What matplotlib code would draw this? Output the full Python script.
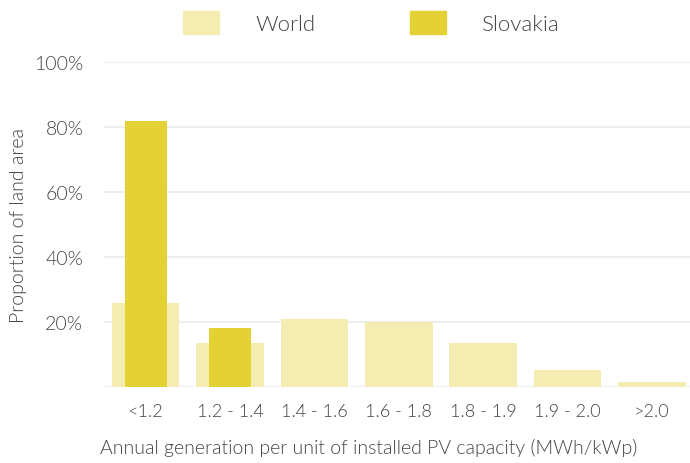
import matplotlib.pyplot as plt
from matplotlib.patches import Patch

# Data
categories = ["<1.2", "1.2 - 1.4", "1.4 - 1.6", "1.6 - 1.8", "1.8 - 1.9", "1.9 - 2.0", ">2.0"]
world = [25.7, 13.4, 20.8, 19.8, 13.4, 5.2, 1.4]
slovakia = [81.8, 18.0, 0, 0, 0, 0, 0]
yticks = [20, 40, 60, 80, 100]

world_color = "#f4ecb0"
slovakia_color = "#e4d134"
text_color = "#444444"

plt.rcParams['font.family'] = ['Lato', 'DejaVu Sans']
plt.rcParams['font.weight'] = 300
plt.rcParams['axes.labelweight'] = 300

fig = plt.figure(figsize=(6.9, 4.64), dpi=100)
ax = fig.add_axes([0.15, 0.1644, 0.85, 0.6992])

x = list(range(len(categories)))
ax.bar(x, world, width=0.8, color=world_color, zorder=2)
ax.bar(x, slovakia, width=0.5, color=slovakia_color, zorder=3)

ax.set_xlim(-0.5, 6.45)
ax.set_ylim(0, 100)

# grid lines
for v in [0] + yticks:
    ax.axhline(v, color="#eeeeee", lw=1.6, zorder=1)

ax.set_yticks(yticks)
ax.set_yticklabels([f"{v}%" for v in yticks], fontweight=300)
ax.set_xticks(x)
ax.set_xticklabels(categories, fontweight=300)
ax.tick_params(axis='y', length=0, pad=14.5, labelsize=14, labelcolor=text_color)
ax.tick_params(axis='x', length=0, pad=12, labelsize=13, labelcolor=text_color)

for s in ax.spines.values():
    s.set_visible(False)

ax.set_ylabel("Proportion of land area", fontsize=14, color=text_color, fontweight=300)
ax.yaxis.set_label_coords(-0.131, 0.5)
ax.set_xlabel("Annual generation per unit of installed PV capacity (MWh/kWp)", fontsize=14,
              color=text_color, fontweight=300)
ax.xaxis.set_label_coords(0.453, -0.158)

handles = [Patch(color=world_color, label="World"), Patch(color=slovakia_color, label="Slovakia")]
leg = fig.legend(handles=handles, loc='center left', bbox_to_anchor=(183 / 690, 1 - 23.5 / 464),
                 ncol=2, frameon=False, fontsize=16, borderpad=0, borderaxespad=0,
                 handlelength=1.62, handleheight=1.22, handletextpad=1.62, columnspacing=4.28)
for t in leg.get_texts():
    t.set_color(text_color)
    t.set_fontweight(300)

fig.savefig("out.png", dpi=100)
